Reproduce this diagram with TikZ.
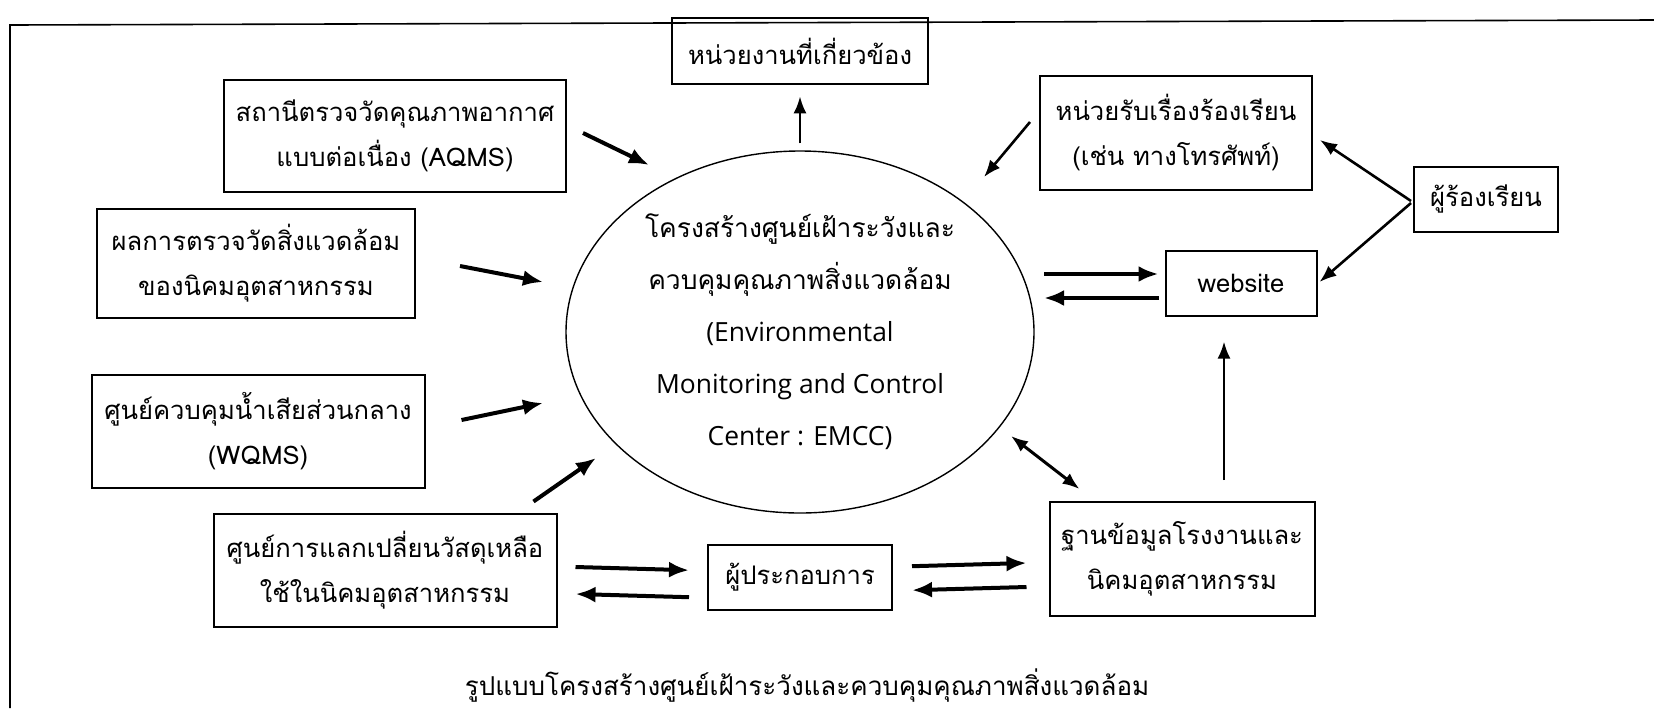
\documentclass[tikz,border=0pt]{standalone}
\usepackage{fontspec}
\newfontfamily\thaifont[Script=Thai]{Loma}
\newfontfamily\latinfont{Open Sans}
\usetikzlibrary{arrows.meta,positioning,shapes.geometric}

\begin{document}
\begin{tikzpicture}[
  x=0.5pt, y=-0.5pt,
  node distance=15pt,
  box/.style={draw, line width=1pt, align=center, inner sep=0pt, font=\thaifont\fontsize{12.8}{22.5}\selectfont},
  hub/.style={draw, ellipse, line width=0.7pt, align=center, inner sep=0pt, minimum width=234pt, minimum height=181pt, font=\thaifont\fontsize{13.2}{26}\selectfont},
  arr/.style={-{Latex[length=10pt,width=8pt]}, line width=2pt},
  thinarr/.style={-{Latex[length=8.5pt,width=6.5pt]}, line width=1.3pt}
]
\useasboundingbox (0,0) rectangle (1654,708);
\draw[line width=0.8pt] (10,708) -- (10,25) -- (1654,20);

\node[hub] (emcc) at (800,332) {โครงสร้างศูนย์เฝ้าระวังและ\\ควบคุมคุณภาพสิ่งแวดล้อม\\{\latinfont (Environmental}\\{\latinfont Monitoring and Control}\\{\latinfont Center : EMCC)}};

\node[box, minimum width=128pt, minimum height=33pt, above=32.5pt of emcc] (agency) {หน่วยงานที่เกี่ยวข้อง};
\node[box, minimum width=92pt, minimum height=32.5pt, below=15pt of emcc] (oper) {ผู้ประกอบการ};

\node[box, minimum width=171pt, minimum height=56pt] (aqms) at (395,136) {สถานีตรวจวัดคุณภาพอากาศ\\แบบต่อเนื่อง (AQMS)};
\node[box, minimum width=159pt, minimum height=54.5pt] (result) at (256,263) {ผลการตรวจวัดสิ่งแวดล้อม\\ของนิคมอุตสาหกรรม};
\node[box, minimum width=166.5pt, minimum height=56.5pt] (wqms) at (258,431) {ศูนย์ควบคุมน้ำเสียส่วนกลาง\\(WQMS)};
\node[box, minimum width=171.5pt, minimum height=56.5pt] (exch) at (385,570) {ศูนย์การแลกเปลี่ยนวัสดุเหลือ\\ใช้ในนิคมอุตสาหกรรม};

\node[box, minimum width=136pt, minimum height=57pt] (compl) at (1176,133) {หน่วยรับเรื่องร้องเรียน\\(เช่น ทางโทรศัพท์)};
\node[box, minimum width=72pt, minimum height=32.5pt] (person) at (1486,199) {ผู้ร้องเรียน};
\node[box, minimum width=75.5pt, minimum height=32.5pt] (web) at (1241,283) {website};
\node[box, minimum width=132.5pt, minimum height=57pt] (db) at (1182,559) {ฐานข้อมูลโรงงานและ\\นิคมอุตสาหกรรม};

\node[font=\thaifont\fontsize{13}{22.5}\selectfont] (caption) at (807,686) {รูปแบบโครงสร้างศูนย์เฝ้าระวังและควบคุมคุณภาพสิ่งแวดล้อม};

% inputs on the left
\draw[arr] ([shift={(16,-3)}]aqms.east) -- ([shift={(-151,-167)}]emcc.center);
\draw[arr] ([shift={(44,3)}]result.east) -- ([shift={(-257,-50)}]emcc.center);
\draw[arr] ([shift={(36,-11)}]wqms.east) -- ([shift={(-257,71)}]emcc.center);
\draw[arr] ([shift={(-24,-11)}]exch.north east) -- ([shift={(-204,126)}]emcc.center);

% top and right side
\draw[thinarr] ([shift={(0,-7)}]emcc.north) -- ([shift={(0,11)}]agency.south);
\draw[thinarr] ([shift={(-9,-11)}]compl.west) -- ([shift={(184,-155)}]emcc.center);
\draw[thinarr] ([shift={(-2,2)}]person.west) -- ([shift={(7,7)}]compl.east);
\draw[thinarr] ([shift={(-2,4)}]person.west) -- ([shift={(2,-1)}]web.east);
\draw[arr] ([shift={(244,-58)}]emcc.center) -- ([shift={(-6,-9)}]web.west);
\draw[arr] ([shift={(-6,15)}]web.west) -- ([shift={(244,-34)}]emcc.center);
\draw[thinarr, {Latex[length=8.5pt,width=6.5pt]}-{Latex[length=8.5pt,width=6.5pt]}, line width=1.5pt] ([shift={(211,104)}]emcc.center) -- ([shift={(31,-12)}]db.north west);
\draw[thinarr] ([shift={(42,-21)}]db.north) -- ([shift={(-17,25)}]web.south);

% bottom row
\draw[arr] ([shift={(18,-3)}]exch.east) -- ([shift={(-18,-7)}]oper.west);
\draw[arr] ([shift={(-18,20)}]oper.west) -- ([shift={(18,24)}]exch.east);
\draw[arr] ([shift={(19,-11)}]oper.east) -- ([shift={(-22,4)}]db.west);
\draw[arr] ([shift={(-22,28)}]db.west) -- ([shift={(19,13)}]oper.east);
\end{tikzpicture}
\end{document}
